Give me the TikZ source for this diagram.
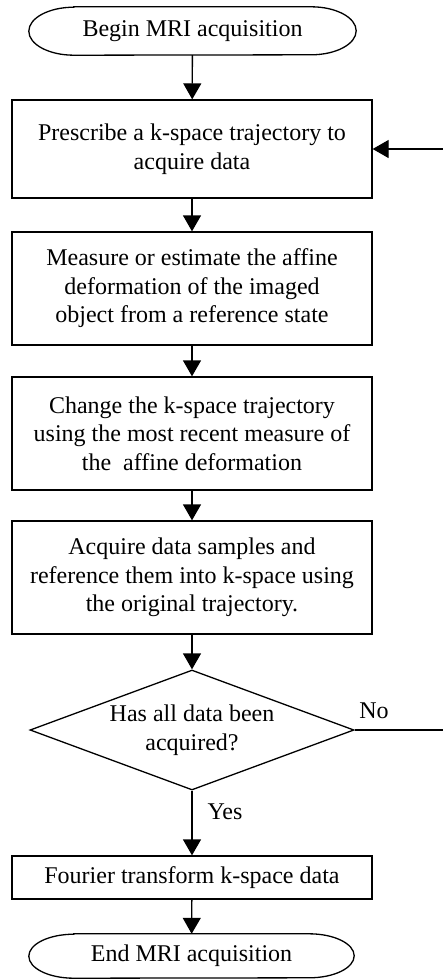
\documentclass[tikz,border=0pt]{standalone}
\usepackage{fontspec}
\setmainfont{Liberation Serif}
\usetikzlibrary{arrows.meta,shapes.geometric}
\begin{document}
\begin{tikzpicture}[x=1pt,y=-1pt,
  txt/.style={font=\fontsize{24}{28.5}\selectfont, align=center, inner sep=0pt},
  box/.style={txt, draw, line width=1.3pt, minimum width=360pt},
  line/.style={line width=1.3pt},
  arr/.style={line width=1.3pt, -{Triangle[width=18pt,length=16pt]}},
  decision/.style={diamond, draw, line width=1.3pt, minimum width=324pt, minimum height=120pt, inner sep=0pt}]
\useasboundingbox (0,0) rectangle (443,980);
\clip (0,0) rectangle (443,980);

% terminals (text nodes, outline drawn below)
\node[txt, minimum width=327pt, minimum height=48pt] (start) at (192.5,31) {Begin MRI acquisition};
\draw[line] ([xshift=45pt]start.north west) -- ([xshift=-45pt]start.north east)
  arc[start angle=90,end angle=-90,x radius=45pt,y radius=24pt]
  -- ([xshift=45pt]start.south west)
  arc[start angle=270,end angle=90,x radius=45pt,y radius=24pt] -- cycle;

\node[box, minimum height=98pt] (b1) at (192,149) {Prescribe a k-space trajectory to\\acquire data};
\node[box, minimum height=113pt] (b2) at (192,288.5) {Measure or estimate the affine\\deformation of the imaged\\object from a reference state};
\node[box, minimum height=113pt] (b3) at (192,433.5) {Change the k-space trajectory\\using the most recent measure of\\the\ \ affine deformation};
\node[box, minimum height=113pt] (b4) at (192,577.5) {Acquire data samples and\\reference them into k-space using\\the original trajectory.};
\node[decision, label={[txt]center:Has all data been\\acquired?}] (dec) at (192,730) {};
\node[box, minimum height=43pt] (b5) at (192,877.5) {Fourier transform k-space data};

\node[txt, minimum width=325pt, minimum height=44pt] (stop) at (191.5,956) {End MRI acquisition};
\draw[line] ([xshift=45pt]stop.north west) -- ([xshift=-45pt]stop.north east)
  arc[start angle=90,end angle=-90,x radius=45pt,y radius=22pt]
  -- ([xshift=45pt]stop.south west)
  arc[start angle=270,end angle=90,x radius=45pt,y radius=22pt] -- cycle;

% connectors
\draw[arr] (start) -- (b1);
\draw[arr] (b1) -- (b2);
\draw[arr] (b2) -- (b3);
\draw[arr] (b3) -- (b4);
\draw[arr] (b4) -- (dec);
\draw[arr] (dec) -- (b5);
\draw[arr] (b5) -- (stop);
\coordinate (loopc) at (452,730);
\draw[arr] (dec.east) -- (loopc) |- (b1.east);

\node[txt] (yes) at (225,812) {Yes};
\node[txt] (no) at (374,711) {No};
\end{tikzpicture}
\end{document}
